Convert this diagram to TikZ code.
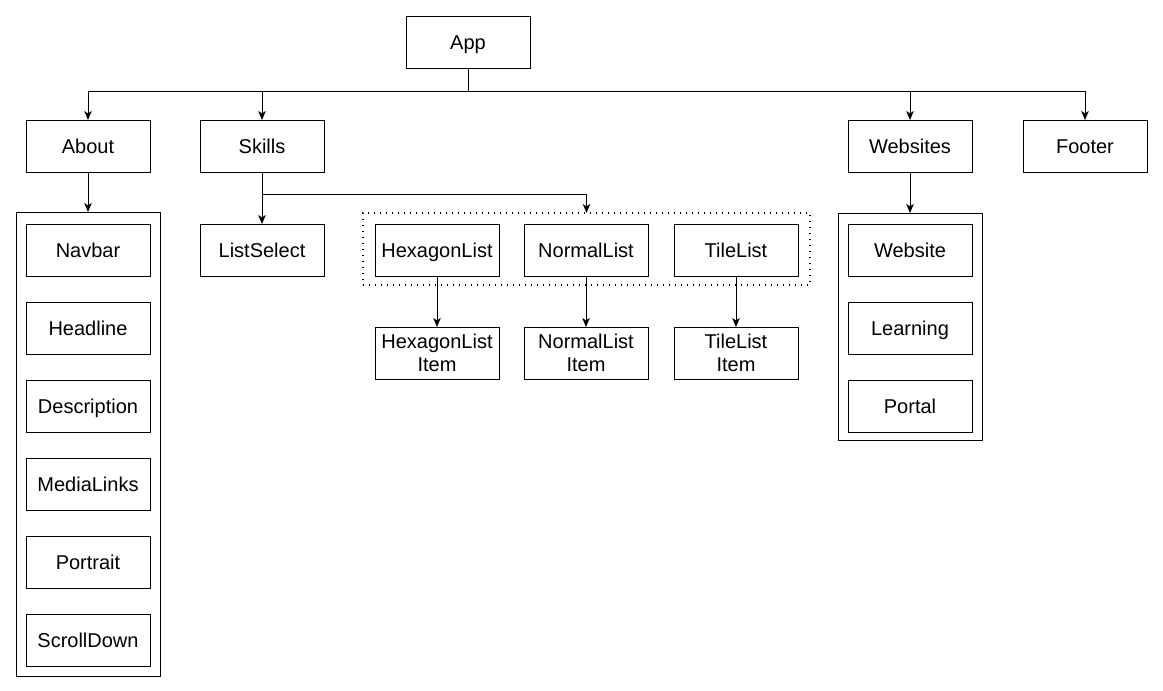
\documentclass[tikz,border=0pt]{standalone}
\usepackage{fontspec}
\setmainfont{Liberation Sans}
\usetikzlibrary{calc}
\usetikzlibrary{arrows.meta}
\tikzset{%
    box/.style={inner sep=0pt,outer sep=0pt,shape=rectangle,draw,line width=1pt,minimum width=124pt,minimum height=52pt,font=\fontsize{20}{23.5}\selectfont},
    body/.style={box,text height=14.6pt,text depth=0pt},
    twobody/.style={box,align=center},
    frame/.style={inner sep=0pt,outer sep=0pt,shape=rectangle,draw,line width=1pt,minimum width=144pt},
    group/.style={inner sep=0pt,outer sep=0pt,shape=rectangle,draw,line width=1.2pt,dash pattern=on 1.2pt off 4.8pt},
    link/.style={line width=1pt},
    tolink/.style={link,-{Stealth[length=9pt,width=7.5pt,inset=2.5pt]}},
}
\begin{document}
\begin{tikzpicture}[x=1pt,y=-1pt]
        \useasboundingbox (0,0) rectangle (1163,691);

        % top row
        \node [body] (app) at (468,42) {App};
        \node [body] (about) at (88,146) {About};
        \node [body] (skills) at (262,146) {Skills};
        \node [body] (websites) at (910,146) {Websites};
        \node [body] (footer) at (1085,146) {Footer};

        \draw [link] (app.south) -- ++(0,23) coordinate (split);
        \draw [link] (split -| about) -- (split -| footer);
        \draw [tolink] (split -| about) -- (about.north);
        \draw [tolink] (split -| skills) -- (skills.north);
        \draw [tolink] (split -| websites) -- (websites.north);
        \draw [tolink] (split -| footer) -- (footer.north);

        % about
        \node [frame,minimum height=464pt] (aboutbox) at (88,444) {};
        \node [body] (navbar) at (88,250) {Navbar};
        \node [body] (headline) at (88,328) {Headline};
        \node [body] (description) at (88,406) {Description};
        \node [body] (medialinks) at (88,484) {MediaLinks};
        \node [body] (portrait) at (88,562) {Portrait};
        \node [body] (scrolldown) at (88,640) {ScrollDown};
        \draw [tolink] (about.south) -- (aboutbox.north);

        % skills
        \node [body] (listselect) at (262,250) {ListSelect};
        \node [group,minimum width=447pt,minimum height=72pt] (lists) at (586.5,249) {};
        \node [body] (hexagonlist) at (437,250) {HexagonList};
        \node [body] (normallist) at (586,250) {NormalList};
        \node [body] (tilelist) at (736,250) {TileList};
        \node [twobody] (hexagonitem) at (437,353) {HexagonList\\Item};
        \node [twobody] (normalitem) at (586,353) {NormalList\\Item};
        \node [twobody] (tileitem) at (736,353) {TileList\\Item};

        \draw [link] (skills.south) -- ++(0,22) coordinate (fork);
        \draw [tolink] (fork) -- (listselect.north);
        \draw [tolink] (fork) -| (lists.north);
        \draw [tolink] (hexagonlist.south) -- (hexagonitem.north);
        \draw [tolink] (normallist.south) -- (normalitem.north);
        \draw [tolink] (tilelist.south) -- (tileitem.north);

        % websites
        \node [frame,minimum height=227pt] (websitesbox) at (910,326.5) {};
        \node [body] (website) at (910,250) {Website};
        \node [body] (learning) at (910,328) {Learning};
        \node [body] (portal) at (910,406) {Portal};
        \draw [tolink] (websites.south) -- (websitesbox.north);
    \end{tikzpicture}
\end{document}
